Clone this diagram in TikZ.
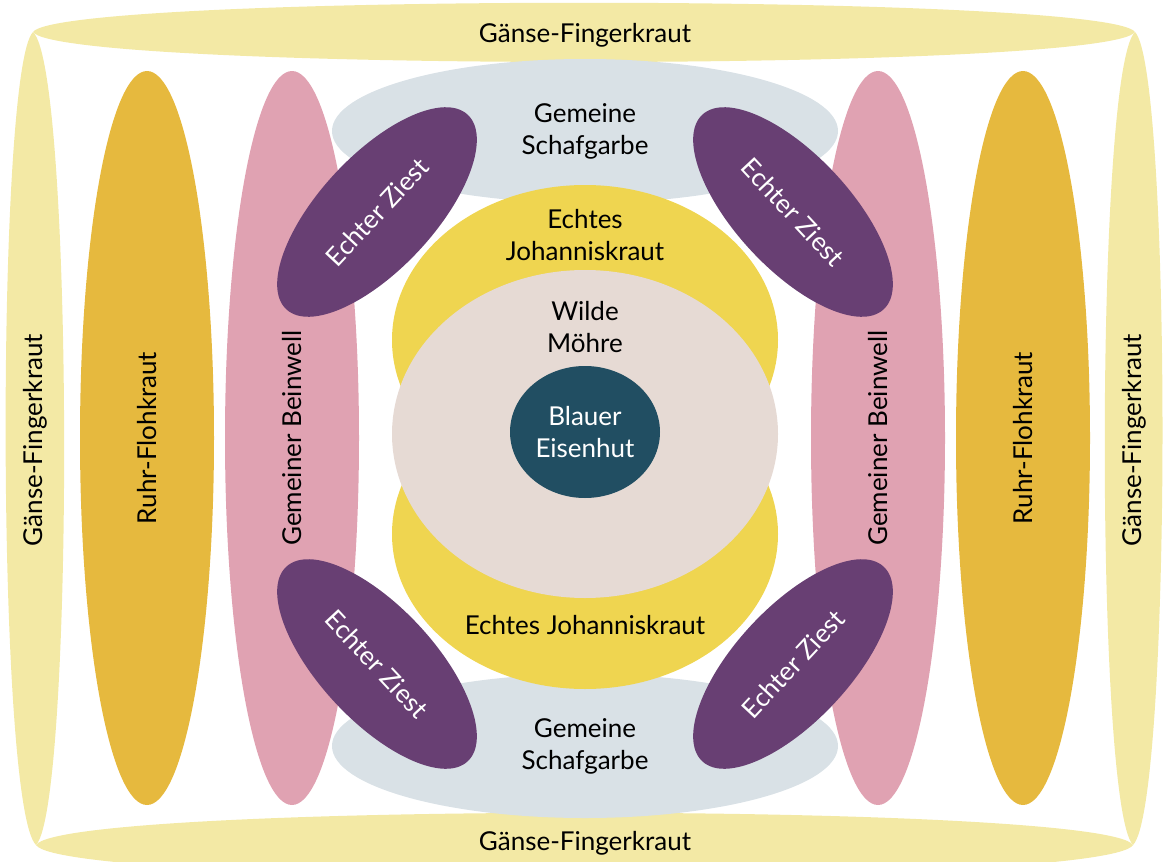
\documentclass[tikz,border=0pt]{standalone}
\usepackage{fontspec}
\setmainfont{Lato}
\usetikzlibrary{shapes.geometric}
\definecolor{gaensegelb}{RGB}{243,233,165}
\definecolor{ruhrgold}{RGB}{230,185,62}
\definecolor{beinwellrosa}{RGB}{224,162,178}
\definecolor{schafgrau}{RGB}{217,225,230}
\definecolor{johannisgelb}{RGB}{239,213,80}
\definecolor{moehrebeige}{RGB}{230,218,212}
\definecolor{eisenhutblau}{RGB}{33,78,98}
\definecolor{ziestlila}{RGB}{104,63,115}
\newcommand{\plantfont}{\fontsize{26}{32}\selectfont}
\tikzset{
  plant/.style={ellipse,inner sep=0pt,align=center,font=\plantfont,text=black},
  band/.style={fill=gaensegelb},
  bandlabel/.style={font=\plantfont,inner sep=0pt,align=center},
  ziest/.style={plant,fill=ziestlila,text=white,minimum width=266,minimum height=114}
}

\begin{document}
\begin{tikzpicture}[x=1pt,y=1pt]
  \useasboundingbox (0,0) rectangle (1168,-862);
  % outer ring
  \fill[band] (33,-32) .. controls (60,7) and (1108,7) .. (1135,-32)
    .. controls (1108,-72) and (60,-72) .. (33,-32);
  \fill[band] (36,-845) .. controls (63,-802) and (1106,-802) .. (1133,-845)
    .. controls (1106,-888) and (63,-888) .. (36,-845);
  \fill[band] (33,-32) .. controls (-4,-70) and (-4,-806) .. (36,-845)
    .. controls (74,-806) and (74,-70) .. (33,-32);
  \fill[band] (1135,-32) .. controls (1172,-70) and (1172,-806) .. (1133,-845)
    .. controls (1095,-806) and (1095,-70) .. (1135,-32);
  \node[bandlabel] (gaenseT) at (585,-35) {Gänse-Fingerkraut};
  \node[bandlabel] (gaenseB) at (585,-843) {Gänse-Fingerkraut};
  \node[bandlabel,rotate=90] (gaenseL) at (35,-440) {Gänse-Fingerkraut};
  \node[bandlabel,rotate=90] (gaenseR) at (1134,-440) {Gänse-Fingerkraut};
  % columns
  \node[plant,fill=ruhrgold,rotate=90,minimum width=734,minimum height=134]
    (ruhrL) at (147,-438) {Ruhr-Flohkraut};
  \node[plant,fill=ruhrgold,rotate=90,minimum width=734,minimum height=134]
    (ruhrR) at (1023,-438) {Ruhr-Flohkraut};
  \node[plant,fill=beinwellrosa,rotate=90,minimum width=734,minimum height=134]
    (beinwellL) at (292,-438) {Gemeiner Beinwell};
  \node[plant,fill=beinwellrosa,rotate=90,minimum width=734,minimum height=134]
    (beinwellR) at (878,-438) {Gemeiner Beinwell};
  % centre
  \node[plant,fill=schafgrau,minimum width=506,minimum height=144]
    (schafT) at (585,-131) {Gemeine\\Schafgarbe};
  \node[plant,fill=schafgrau,minimum width=506,minimum height=144]
    (schafB) at (585,-746) {Gemeine\\Schafgarbe};
  \node[ziest,rotate=47] (ziestTL) at (377,-212) {Echter Ziest};
  \node[ziest,rotate=-47] (ziestTR) at (793,-212) {Echter Ziest};
  \node[ziest,rotate=-47] (ziestBL) at (377,-664) {Echter Ziest};
  \node[ziest,rotate=47] (ziestBR) at (793,-664) {Echter Ziest};
  \node[plant,fill=johannisgelb,minimum width=386,minimum height=310]
    (johT) at (585,-340) {};
  \node[plant,fill=johannisgelb,minimum width=386,minimum height=310]
    (johB) at (585,-534) {};
  \node[plant,fill=moehrebeige,minimum width=386,minimum height=328]
    (moehre) at (585,-434) {};
  \node[bandlabel] (johTlabel) at (585,-235) {Echtes\\Johanniskraut};
  \node[bandlabel] (johBlabel) at (585,-625) {Echtes Johanniskraut};
  \node[bandlabel] (moehrelabel) at (585,-327) {Wilde\\Möhre};
  \node[plant,fill=eisenhutblau,text=white,minimum width=150,minimum height=132]
    (eisenhut) at (585,-432) {Blauer\\Eisenhut};
\end{tikzpicture}
\end{document}
